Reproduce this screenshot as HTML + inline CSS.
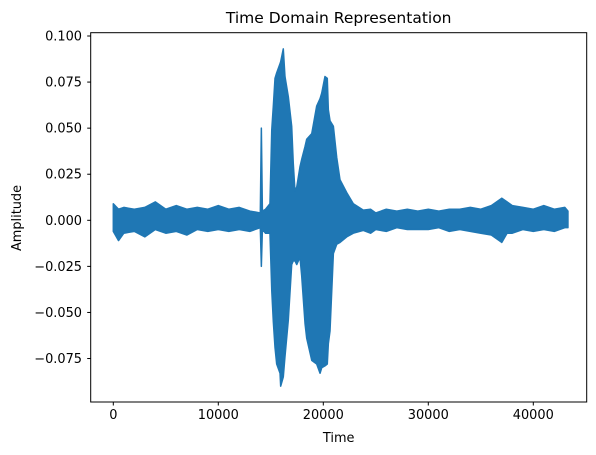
<!DOCTYPE html>
<html><head><meta charset="utf-8"><style>
body{margin:0;background:#fff}
svg{display:block;font-family:"DejaVu Sans","Liberation Sans",sans-serif}
</style></head><body>
<svg id="chart" width="596" height="455">
<rect width="596" height="455" fill="#fff"/>
<text x="338.7" y="23" font-size="15.5" text-anchor="middle" fill="#000">Time Domain Representation</text>
<g id="plot"></g>
<rect x="90.7" y="32.7" width="496" height="369.3" fill="none" stroke="#000" stroke-width="1"/>
<g id="xticks"></g>
<g id="yticks"></g>
<text x="338.7" y="442" font-size="12.9" text-anchor="middle">Time</text>
<text transform="translate(21,218) rotate(-90)" font-size="12.9" text-anchor="middle">Amplitude</text>
</svg>
<script>
const times = [0,500,1000,2000,3000,4000,5000,6000,7000,8000,9000,10000,11000,12000,13000,14000,14100,14200,14500,
14920,15090,15240,15400,15560,15880,15940,16190,16350,16670,16990,17140,17300,17470,17780,17940,18260,18420,18900,19370,19690,19850,20160,20380,20480,20640,20960,21280,21590,22230,22860,23810,
24500,25000,26000,27000,28000,29000,30000,31000,32000,33000,34000,35000,36000,37000,37500,38000,39000,40000,41000,42000,43000,43300];
const upper = [0.009,0.006,0.007,0.006,0.007,0.010,0.006,0.008,0.006,0.007,0.006,0.008,0.006,0.007,0.005,0.004,0.050,0.005,0.006,
0.009,0.049,0.062,0.077,0.080,0.085,0.086,0.093,0.078,0.067,0.051,0.031,0.016,0.018,0.029,0.033,0.040,0.044,0.047,0.062,0.066,0.069,0.078,0.077,0.060,0.054,0.051,0.034,0.022,0.015,0.009,0.0055,
0.006,0.004,0.006,0.005,0.006,0.005,0.006,0.005,0.006,0.006,0.007,0.006,0.008,0.012,0.010,0.008,0.007,0.006,0.008,0.006,0.007,0.005];
const lower = [-0.006,-0.011,-0.007,-0.006,-0.009,-0.005,-0.007,-0.006,-0.008,-0.005,-0.006,-0.005,-0.006,-0.005,-0.006,-0.004,-0.025,-0.005,-0.007,
-0.007,-0.038,-0.055,-0.069,-0.078,-0.083,-0.090,-0.085,-0.074,-0.054,-0.024,-0.022,-0.022,-0.024,-0.020,-0.030,-0.056,-0.064,-0.076,-0.078,-0.083,-0.080,-0.079,-0.078,-0.067,-0.060,-0.018,-0.013,-0.012,-0.009,-0.007,-0.0055,
-0.007,-0.005,-0.006,-0.004,-0.005,-0.005,-0.005,-0.004,-0.006,-0.005,-0.006,-0.007,-0.008,-0.012,-0.007,-0.007,-0.005,-0.006,-0.005,-0.006,-0.004,-0.004];
const xTickVals = [0,10000,20000,30000,40000];
const yTickVals = [0.100,0.075,0.050,0.025,0.000,-0.025,-0.050,-0.075];

const NS='http://www.w3.org/2000/svg';
function xs(t){return 113.3 + t*0.0105;}
function ys(v){return 220.3 - v*1843;}

const plot=document.getElementById('plot');
let d='M'+xs(times[0])+','+ys(upper[0]);
for(let i=1;i<times.length;i++) d+=' L'+xs(times[i])+','+ys(upper[i]);
for(let i=times.length-1;i>=0;i--) d+=' L'+xs(times[i])+','+ys(lower[i]);
d+=' Z';
const p=document.createElementNS(NS,'path');
p.setAttribute('d',d);
p.setAttribute('fill','#1f77b4');
p.setAttribute('stroke','#1f77b4');
p.setAttribute('stroke-width','1.5');
p.setAttribute('stroke-linejoin','round');


plot.appendChild(p);

const xg=document.getElementById('xticks');
xTickVals.forEach(v=>{
  const x=xs(v);
  const l=document.createElementNS(NS,'line');
  l.setAttribute('x1',x);l.setAttribute('x2',x);l.setAttribute('y1',402);l.setAttribute('y2',405.5);l.setAttribute('stroke','#000');
  
  
  xg.appendChild(l);
  const t=document.createElementNS(NS,'text');
  t.setAttribute('x',x);t.setAttribute('y',419);t.setAttribute('font-size','12.9');t.setAttribute('text-anchor','middle');
  t.textContent=String(v);
  
  
  xg.appendChild(t);
});
const yg=document.getElementById('yticks');
yTickVals.forEach(v=>{
  const y=ys(v);
  const l=document.createElementNS(NS,'line');
  l.setAttribute('x1',87.2);l.setAttribute('x2',90.7);l.setAttribute('y1',y);l.setAttribute('y2',y);l.setAttribute('stroke','#000');
  
  
  yg.appendChild(l);
  const t=document.createElementNS(NS,'text');
  t.setAttribute('x',82);t.setAttribute('y',y+4.5);t.setAttribute('font-size','12.9');t.setAttribute('text-anchor','end');
  t.textContent=(v<0?'\u2212':'')+Math.abs(v).toFixed(3);
  
  
  yg.appendChild(t);
});
</script>
</body></html>
